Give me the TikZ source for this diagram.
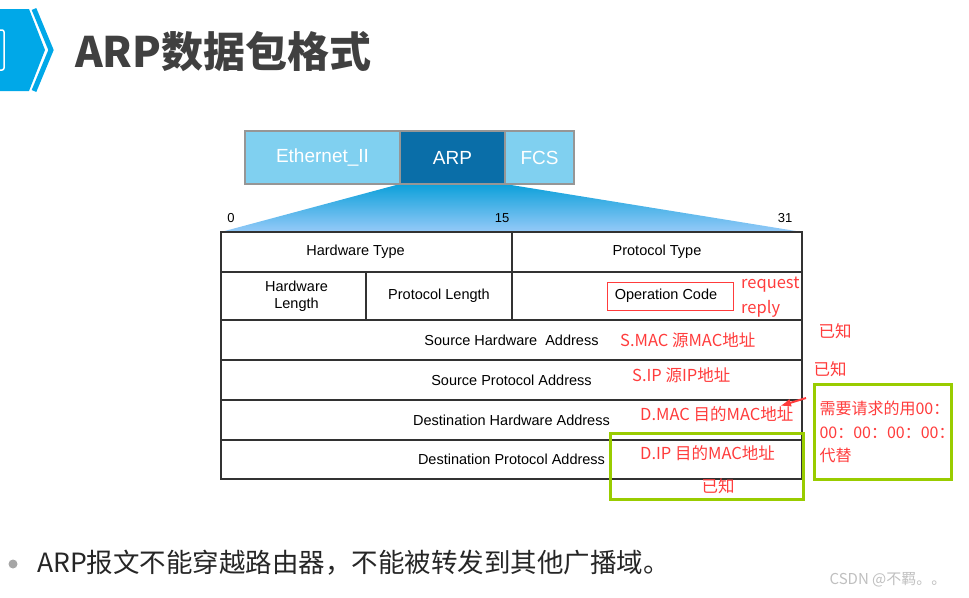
\documentclass[tikz,border=0pt]{standalone}
\usepackage{fontspec}
\setmainfont{Liberation Sans}
\newfontfamily\cjk{Noto Sans CJK SC}
\usetikzlibrary{arrows.meta,positioning,backgrounds}
\definecolor{iconblue}{RGB}{0,168,232}
\definecolor{titlegray}{RGB}{64,64,64}
\definecolor{framelight}{RGB}{128,208,240}
\definecolor{framedark}{RGB}{10,110,168}
\definecolor{framegray}{RGB}{150,150,150}
\definecolor{wedgetop}{RGB}{12,160,218}
\definecolor{wedgebottom}{RGB}{150,202,248}
\definecolor{notered}{RGB}{255,60,60}
\definecolor{markgreen}{RGB}{153,204,0}
\definecolor{cellline}{RGB}{50,50,50}

\begin{document}
\begin{tikzpicture}[x=1pt, y=-1pt,
  frame/.style={draw=framegray, line width=1.5pt, fill=framelight, text=white, outer sep=0pt,
                minimum height=53pt, inner sep=0pt, font=\fontsize{19}{22}\selectfont},
  cell/.style={draw=cellline, line width=1.2pt, inner sep=0pt, outer sep=0pt, anchor=north west,
               font=\fontsize{14.5}{17}\selectfont, align=center},
  bitnum/.style={inner sep=0pt, font=\fontsize{13}{15}\selectfont},
  redlbl/.style={text=notered, inner sep=0pt, font=\cjk\fontsize{16.5}{19}\selectfont},
  greenbox/.style={draw=markgreen, line width=3pt, inner sep=0pt, anchor=north west},
]
  \useasboundingbox (0,0) rectangle (969,597);

  % Title bar
  \fill[iconblue] (0,9) -- (29,9) -- (45,50) -- (29,91) -- (0,91) -- cycle;
  \draw[white, line width=1.5pt, rounded corners=2pt] (-6,30) rectangle (4,70);
  \draw[iconblue, line width=5pt] (34,9) -- (51,50) -- (34,91);
  \node[anchor=west, inner sep=0pt, text=titlegray,
        font=\cjk\bfseries\fontsize{42}{50}\selectfont] (title) at (75,52) {ARP数据包格式};

  % Frame
  \node[frame, minimum width=155pt, anchor=north west] (eth) at (245,131) {Ethernet\_II};
  \node[frame, fill=framedark, minimum width=105pt, right=0pt of eth] (arp) {ARP};
  \node[frame, minimum width=69pt, right=0pt of arp] (fcs) {FCS};

  % Bit numbers
  \node[bitnum] (b0)  at (231,218) {0};
  \node[bitnum] (b15) at (502,218) {15};
  \node[bitnum] (b31) at (785,218) {31};

  % ARP fields
  \node[cell, minimum width=291pt, minimum height=40pt] (hwtype) at (221,232) {Hardware Type\hspace*{22pt}};
  \node[cell, minimum width=290pt, minimum height=40pt] (ptype) at (512,232) {Protocol Type};
  \node[cell, minimum width=145pt, minimum height=48pt] (hwlen) at (221,272) {\hspace*{6pt}Hardware\\\hspace*{6pt}Length};
  \node[cell, minimum width=146pt, minimum height=48pt] (plen) at (366,272) {Protocol Length};
  \node[cell, minimum width=290pt, minimum height=48pt] (opcell) at (512,272) {};
  \node[cell, minimum width=581pt, minimum height=40pt] (srchw) at (221,320) {Source Hardware\ \ Address};
  \node[cell, minimum width=581pt, minimum height=40pt] (srcip) at (221,360) {Source Protocol Address};
  \node[cell, minimum width=581pt, minimum height=40pt] (dsthw) at (221,400) {Destination Hardware Address};
  \node[cell, minimum width=581pt, minimum height=39pt] (dstip) at (221,440) {Destination Protocol Address};

  % Zoom wedge
  \begin{scope}[on background layer]
    \shade[top color=wedgetop, bottom color=wedgebottom]
      (arp.south west) -- (arp.south east) -- (ptype.north east) -- (hwtype.north west) -- cycle;
  \end{scope}

  % Notes
  \node[draw=notered, line width=1pt, minimum width=126pt, minimum height=28pt, inner sep=0pt,
        font=\fontsize{14.5}{17}\selectfont] (opcode) at (670,296) {Operation Code\hspace*{8pt}};
  \node[redlbl, anchor=west] (req) at (741,285) {request};
  \node[redlbl, anchor=west] (rep) at (741,309) {reply};
  \node[redlbl, anchor=west] (smac) at (620,340) {S.MAC 源MAC地址};
  \node[redlbl, anchor=west] (sip) at (632,375) {S.IP 源IP地址};
  \node[redlbl, anchor=west] (dmac) at (640,414) {D.MAC 目的MAC地址};
  \node[redlbl, anchor=west] (dip) at (640,453) {D.IP 目的MAC地址};
  \node[redlbl] (known1) at (835,331) {已知};
  \node[redlbl] (known2) at (830,369) {已知};
  \node[redlbl] (known3) at (718,486) {已知};

  \node[greenbox, minimum width=193pt, minimum height=66pt] (dipmark) at (609,432) {};
  \node[greenbox, redlbl, minimum height=95pt, text width=127pt, inner xsep=5pt,
        align=left, font=\cjk\fontsize{16}{23.5}\selectfont] (fill0) at (813,383)
    {需要请求的用00：\\00：00：00：00：\\代替};

  \coordinate (arrtail) at (806,398);
  \coordinate (arrhead) at (780,406);
  \draw[notered, line width=2pt, -{Latex[length=11pt,width=8pt]}] (arrtail) -- (arrhead);

  % Bottom line
  \node[circle, fill=gray!70, minimum size=9pt, inner sep=0pt] (dot) at (13,564) {};
  \node[anchor=west, inner sep=0pt, text=black!85, font=\cjk\fontsize{26.5}{32}\selectfont]
    (rule) at (37,563) {ARP报文不能穿越路由器，不能被转发到其他广播域。};
  \node[inner sep=0pt, text=gray!50, font=\cjk\fontsize{15}{18}\selectfont] (wm) at (888,580) {CSDN @不羁。。};
\end{tikzpicture}
\end{document}
